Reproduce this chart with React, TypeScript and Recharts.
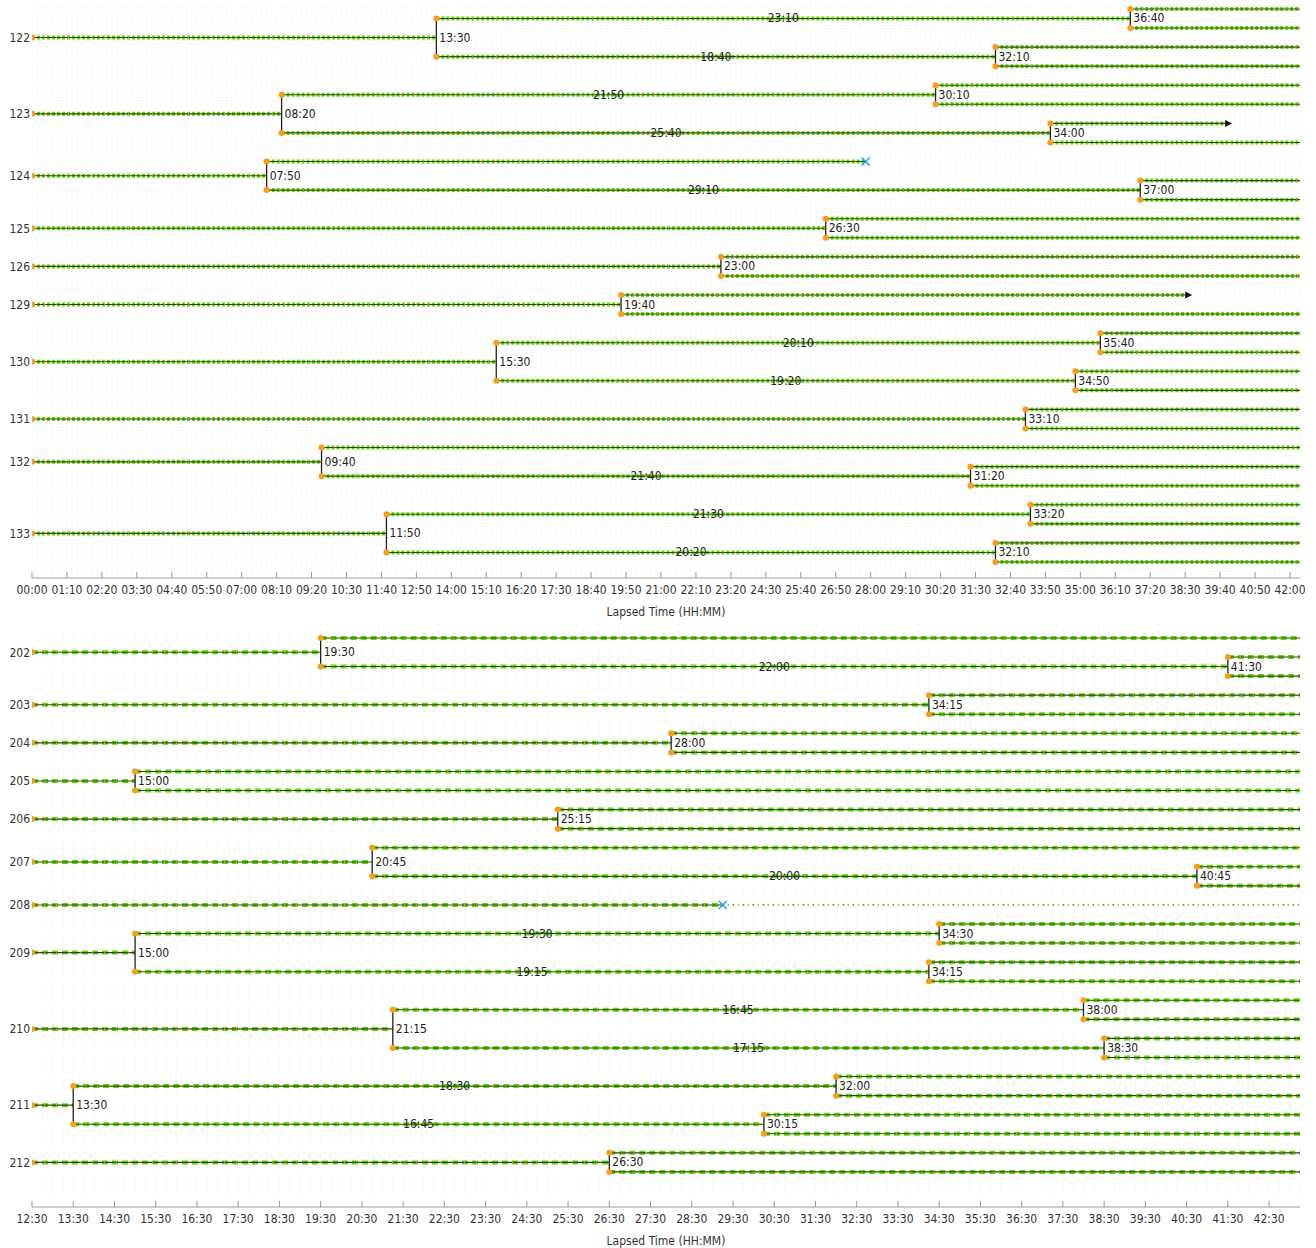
import React from 'react';
import { ComposedChart, Line, Scatter, XAxis, YAxis, CartesianGrid } from 'recharts';

type Node =
  | null
  | { kind: 'div'; t: number; a: Node; b: Node }
  | { kind: 'dead' | 'lost' | 'arrow'; t: number };

const mins = (s: string) => {
  const [h, m] = s.split(':').map(Number);
  return h * 60 + m;
};
const hhmm = (v: number) => {
  const h = Math.floor(v / 60);
  const m = Math.round(v - h * 60);
  return `${String(h).padStart(2, '0')}:${String(m).padStart(2, '0')}`;
};

// D = division (two daughters), X = cell death, L = death then lost track, A = leaves field of view
const D = (t: string, a: Node = null, b: Node = null): Node => ({ kind: 'div', t: mins(t), a, b });
const X = (t: string): Node => ({ kind: 'dead', t: mins(t) });
const L = (t: string): Node => ({ kind: 'lost', t: mins(t) });
const A = (t: string): Node => ({ kind: 'arrow', t: mins(t) });

// ---- upper experiment ----
const topIds = ['122', '123', '124', '125', '126', '129', '130', '131', '132', '133'];
const topTrees: Node[] = [
  D('13:30', D('36:40'), D('32:10')),
  D('08:20', D('30:10'), D('34:00', A('39:50'), null)),
  D('07:50', X('27:50'), D('37:00')),
  D('26:30'),
  D('23:00'),
  D('19:40', A('38:30'), null),
  D('15:30', D('35:40'), D('34:50')),
  D('33:10'),
  D('09:40', null, D('31:20')),
  D('11:50', D('33:20'), D('32:10')),
];
const topStart = '00:00';
const topEnd = '42:20';
const topFrame = 10;
const topTicks = [
  '00:00', '01:10', '02:20', '03:30', '04:40', '05:50', '07:00', '08:10', '09:20', '10:30',
  '11:40', '12:50', '14:00', '15:10', '16:20', '17:30', '18:40', '19:50', '21:00', '22:10',
  '23:20', '24:30', '25:40', '26:50', '28:00', '29:10', '30:20', '31:30', '32:40', '33:50',
  '35:00', '36:10', '37:20', '38:30', '39:40', '40:50', '42:00',
];

// ---- lower experiment ----
const bottomIds = ['202', '203', '204', '205', '206', '207', '208', '209', '210', '211', '212'];
const bottomTrees: Node[] = [
  D('19:30', null, D('41:30')),
  D('34:15'),
  D('28:00'),
  D('15:00'),
  D('25:15'),
  D('20:45', null, D('40:45')),
  L('29:15'),
  D('15:00', D('34:30'), D('34:15')),
  D('21:15', D('38:00'), D('38:30')),
  D('13:30', D('32:00'), D('30:15')),
  D('26:30'),
];
const bottomStart = '12:30';
const bottomEnd = '43:15';
const bottomFrame = 15;
const bottomTicks = [
  '12:30', '13:30', '14:30', '15:30', '16:30', '17:30', '18:30', '19:30', '20:30', '21:30',
  '22:30', '23:30', '24:30', '25:30', '26:30', '27:30', '28:30', '29:30', '30:30', '31:30',
  '32:30', '33:30', '34:30', '35:30', '36:30', '37:30', '38:30', '39:30', '40:30', '41:30',
  '42:30',
];

type Seg = { x0: number; x1: number; y: number };
type Pt = { x: number; y: number; text?: string };

function layout(ids: string[], trees: Node[], startS: string, endS: string) {
  const start = mins(startS);
  const end = mins(endS);
  let leaf = 0;
  const life: Seg[] = [];
  const ghost: Seg[] = [];
  const links: { x: number; y0: number; y1: number }[] = [];
  const starts: Pt[] = [];
  const deaths: Pt[] = [];
  const arrows: Pt[] = [];
  const divLabels: Pt[] = [];
  const lenLabels: Pt[] = [];
  const roots: { y: number; id: string }[] = [];

  const walk = (n: Node, t0: number): number => {
    if (n && n.kind === 'div') {
      const ya = walk(n.a, n.t);
      const yb = walk(n.b, n.t);
      const y = (ya + yb) / 2;
      life.push({ x0: t0, x1: n.t, y });
      links.push({ x: n.t, y0: ya, y1: yb });
      starts.push({ x: n.t, y: ya }, { x: n.t, y: yb });
      divLabels.push({ x: n.t, y, text: hhmm(n.t) });
      if (t0 > start) lenLabels.push({ x: (t0 + n.t) / 2, y, text: hhmm(n.t - t0) });
      return y;
    }
    const y = leaf++;
    if (!n) {
      life.push({ x0: t0, x1: end, y });
    } else {
      life.push({ x0: t0, x1: n.t, y });
      if (n.kind === 'arrow') arrows.push({ x: n.t, y });
      else deaths.push({ x: n.t, y });
      if (n.kind === 'lost') ghost.push({ x0: n.t, x1: end, y });
    }
    return y;
  };

  trees.forEach((tr, i) => {
    const y = walk(tr, start);
    starts.push({ x: start, y });
    roots.push({ y, id: ids[i] });
  });

  return { start, end, life, ghost, links, starts, deaths, arrows, divLabels, lenLabels, roots };
}

const segData = (segs: Seg[]) =>
  segs.flatMap((s) => [
    { x: s.x0, y: s.y },
    { x: s.x1, y: s.y },
    { x: s.x1, y: null },
  ]);

const GREEN = '#52e000';
const ORANGE = '#ff9a1a';
const DARK = '#3a3a22';
const BLUE = '#2f9bf0';

function Panel({
  ids, trees, startS, endS, frame, ticks, height, marginBottom, dash,
}: {
  ids: string[]; trees: Node[]; startS: string; endS: string; frame: number;
  ticks: string[]; height: number; marginBottom: number; dash: string;
}) {
  const L0 = layout(ids, trees, startS, endS);
  const idByY = new Map(L0.roots.map((r) => [r.y, r.id]));
  const gridTimes: number[] = [];
  for (let t = L0.start; t <= L0.end; t += frame) gridTimes.push(t);
  const linkData = L0.links.flatMap((l) => [
    { x: l.x, y: l.y0 },
    { x: l.x, y: l.y1 },
    { x: l.x, y: null },
  ]);
  const lifeData = segData(L0.life);
  const ghostData = segData(L0.ghost);
  const lineCommon = {
    dataKey: 'y',
    dot: false,
    activeDot: false,
    isAnimationActive: false,
    connectNulls: false,
    type: 'linear' as const,
  };

  return (
    <ComposedChart width={1316} height={height} margin={{ top: 4, right: 16, bottom: marginBottom, left: 0 }}>
      <CartesianGrid xAxisId="grid" horizontal={false} stroke="#efefef" strokeDasharray="1 2" />
      <XAxis
        xAxisId="grid"
        dataKey="x"
        type="number"
        domain={[L0.start, L0.end]}
        allowDataOverflow
        ticks={gridTimes}
        interval={0}
        hide
      />
      <XAxis
        dataKey="x"
        type="number"
        domain={[L0.start, L0.end]}
        allowDataOverflow
        ticks={ticks.map(mins)}
        tickFormatter={hhmm}
        interval={0}
        stroke="#9a9a9a"
        tickSize={-6}
        tickMargin={13}
        height={38}
        tick={{ fontSize: 12, fill: '#333' }}
        label={{ value: 'Lapsed Time (HH:MM)', position: 'insideBottom', offset: 0, fontSize: 12, fill: '#333' }}
      />
      <YAxis
        dataKey="y"
        type="number"
        domain={[-0.26, 29.84]}
        allowDataOverflow
        reversed
        ticks={L0.roots.map((r) => r.y)}
        tickFormatter={(v: number) => idByY.get(v) ?? ''}
        interval={0}
        axisLine={false}
        tickLine={false}
        tickSize={0}
        tickMargin={2}
        width={32}
        tick={{ fontSize: 12, fill: '#333' }}
      />
      <Line {...lineCommon} data={lifeData} stroke={GREEN} strokeWidth={4} strokeDasharray={dash} />
      <Line {...lineCommon} data={lifeData} stroke={DARK} strokeWidth={1.1} />
      <Line {...lineCommon} data={lifeData} stroke={ORANGE} strokeWidth={2.5} strokeDasharray="1 11" strokeOpacity={0.8} />
      <Line {...lineCommon} data={ghostData} stroke="#f2e400" strokeWidth={2} strokeDasharray="2 8" />
      <Line {...lineCommon} data={ghostData} stroke="#222" strokeWidth={1} strokeDasharray="1 4" />
      <Line {...lineCommon} data={linkData} stroke="#222" strokeWidth={1.3} />
      <Scatter
        data={L0.starts}
        dataKey="y"
        isAnimationActive={false}
        shape={(p: any) => <circle cx={p.cx} cy={p.cy} r={3} fill={ORANGE} />}
      />
      <Scatter
        data={L0.arrows}
        dataKey="y"
        isAnimationActive={false}
        shape={(p: any) => (
          <polygon points={`${p.cx},${p.cy - 3.5} ${p.cx + 7},${p.cy} ${p.cx},${p.cy + 3.5}`} fill="#111" />
        )}
      />
      <Scatter
        data={L0.deaths}
        dataKey="y"
        isAnimationActive={false}
        shape={(p: any) => (
          <g stroke={BLUE} strokeWidth={1.5}>
            <line x1={p.cx - 4} y1={p.cy - 4} x2={p.cx + 4} y2={p.cy + 4} />
            <line x1={p.cx - 4} y1={p.cy + 4} x2={p.cx + 4} y2={p.cy - 4} />
          </g>
        )}
      />
      <Scatter
        data={L0.divLabels}
        dataKey="y"
        isAnimationActive={false}
        shape={(p: any) => (
          <text x={p.cx + 3} y={p.cy} dominantBaseline="central" fontSize={12} fill="#222">
            {p.payload.text}
          </text>
        )}
      />
      <Scatter
        data={L0.lenLabels}
        dataKey="y"
        isAnimationActive={false}
        shape={(p: any) => (
          <text x={p.cx} y={p.cy} textAnchor="middle" dominantBaseline="central" fontSize={12} fill="#222">
            {p.payload.text}
          </text>
        )}
      />
    </ComposedChart>
  );
}

export default function App() {
  return (
    <div
      style={{
        position: 'absolute',
        left: 0,
        top: 0,
        width: 1316,
        height: 1248,
        background: '#fff',
        fontFamily: '"DejaVu Sans Condensed", "Liberation Sans", sans-serif',
      }}
    >
      <div style={{ position: 'absolute', left: 0, top: 0 }}>
        <Panel ids={topIds} trees={topTrees} startS={topStart} endS={topEnd} frame={topFrame}
          ticks={topTicks} height={626} marginBottom={10} dash="3 2" />
      </div>
      <div style={{ position: 'absolute', left: 0, top: 629 }}>
        <Panel ids={bottomIds} trees={bottomTrees} startS={bottomStart} endS={bottomEnd} frame={bottomFrame}
          ticks={bottomTicks} height={619} marginBottom={3} dash="6 4" />
      </div>
    </div>
  );
}
